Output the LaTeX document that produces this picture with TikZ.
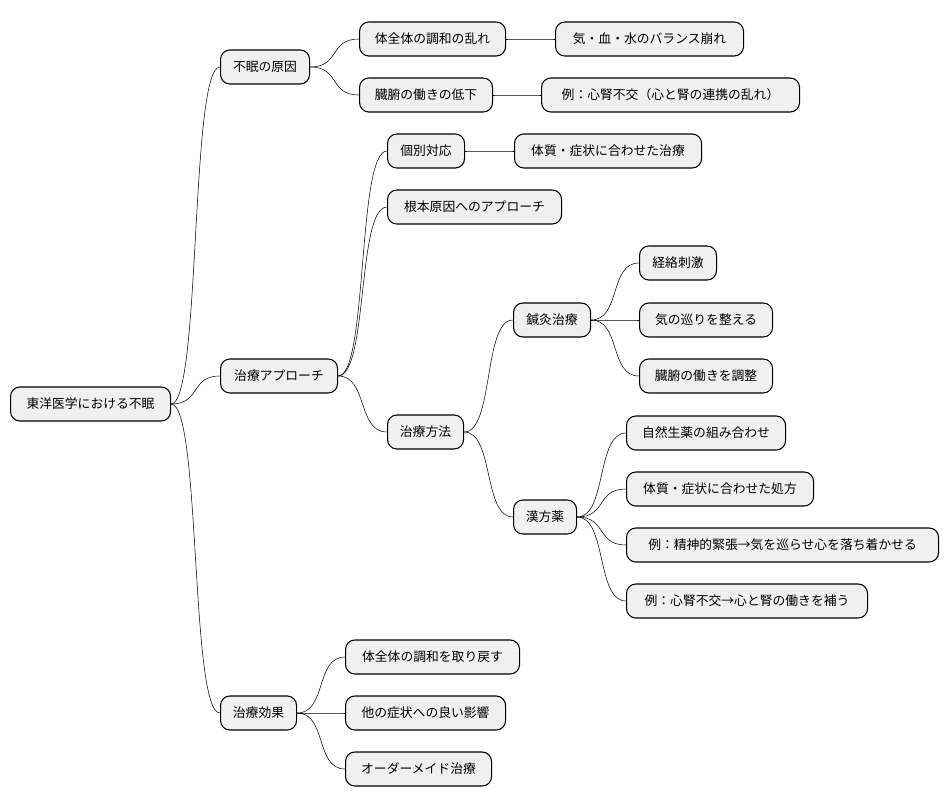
\documentclass[tikz,border=0pt]{standalone}
\usepackage{fontspec}
\setmainfont{Noto Sans CJK JP}
\usetikzlibrary{calc}

\tikzset{
  topic/.style={draw, thick, fill=black!6, rounded corners=7pt, anchor=west,
    minimum height=34*0.75pt, inner xsep=0pt, font=\fontsize{9.6}{11}\selectfont},
  branch/.style={thin}
}
% name, left, right, y, text
\newcommand{\topicnode}[5]{%
  \node[topic, minimum width={(#3-#2)*0.75pt}] (#1) at (#2,#4) {#5};}

\begin{document}
\begin{tikzpicture}[x=0.75pt, y=-0.75pt]
  \useasboundingbox (0,0) rectangle (948,809);

  % root
  \topicnode{root}{10}{170}{404}{東洋医学における不眠}

  % causes
  \topicnode{cause}{220}{309}{67}{不眠の原因}
  \topicnode{harmony}{359}{505}{39}{体全体の調和の乱れ}
  \topicnode{balance}{555}{743}{39}{気・血・水のバランス崩れ}
  \topicnode{organs}{359}{492}{95}{臓腑の働きの低下}
  \topicnode{kidney}{541}{799}{95}{例：心腎不交（心と腎の連携の乱れ）}

  % approach
  \topicnode{approach}{220}{337}{376}{治療アプローチ}
  \topicnode{individual}{387}{464}{151}{個別対応}
  \topicnode{tailored}{514}{701}{151}{体質・症状に合わせた治療}
  \topicnode{rootcause}{387}{561}{207}{根本原因へのアプローチ}
  \topicnode{method}{387}{463}{432}{治療方法}
  \topicnode{acu}{513}{590}{320}{鍼灸治療}
  \topicnode{meridian}{639}{716}{263}{経絡刺激}
  \topicnode{qiflow}{639}{772}{320}{気の巡りを整える}
  \topicnode{organadj}{639}{772}{376}{臓腑の働きを調整}
  \topicnode{kampo}{513}{576}{517}{漢方薬}
  \topicnode{herbs}{626}{785}{433}{自然生薬の組み合わせ}
  \topicnode{recipe}{626}{813}{489}{体質・症状に合わせた処方}
  \topicnode{tension}{626}{938}{545}{例：精神的緊張→気を巡らせ心を落ち着かせる}
  \topicnode{supply}{626}{867}{601}{例：心腎不交→心と腎の働きを補う}

  % effects
  \topicnode{effect}{220}{296}{713}{治療効果}
  \topicnode{restore}{345}{519}{657}{体全体の調和を取り戻す}
  \topicnode{good}{345}{505}{713}{他の症状への良い影響}
  \topicnode{custom}{345}{491}{769}{オーダーメイド治療}

  % branches
  \foreach \a/\b in {root/cause, root/approach, root/effect,
      cause/harmony, harmony/balance, cause/organs, organs/kidney,
      approach/individual, individual/tailored, approach/rootcause, approach/method,
      method/acu, acu/meridian, acu/qiflow, acu/organadj,
      method/kampo, kampo/herbs, kampo/recipe, kampo/tension, kampo/supply,
      effect/restore, effect/good, effect/custom}
    \draw[branch] (\a.east) .. controls ($(\a.east)+(30,0)$) and ($(\b.west)+(-30,0)$) .. (\b.west);
\end{tikzpicture}
\end{document}
